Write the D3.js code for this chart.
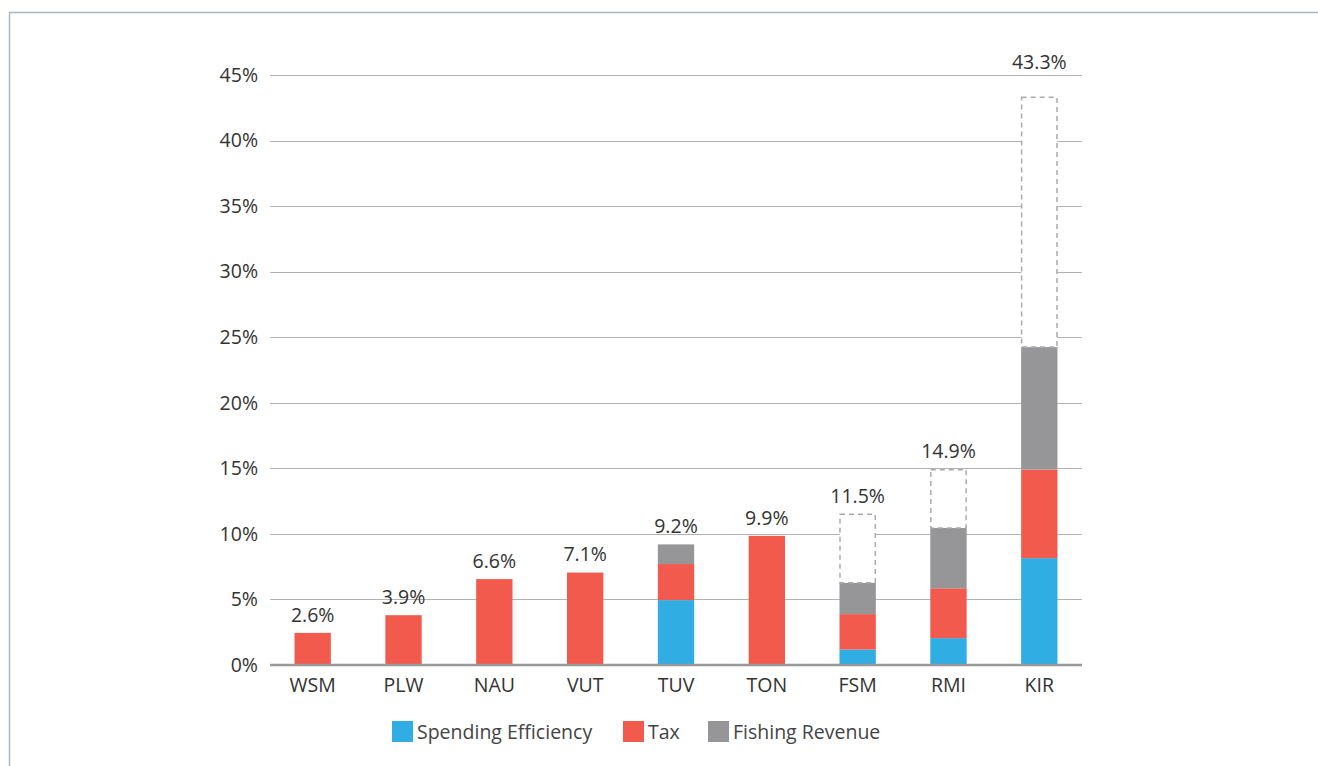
<!DOCTYPE html>
<html>
<head>
<meta charset="utf-8">
<script src="https://cdn.jsdelivr.net/npm/d3@7"></script>
<style>
  html, body { margin: 0; padding: 0; background: #fff; }
  svg { display: block; font-family: "Open Sans", Lato, sans-serif; }
</style>
</head>
<body>
<svg id="chart" width="1318" height="766"></svg>
<script>
// countries and stacked components (% of GDP)
const countries = ['WSM', 'PLW', 'NAU', 'VUT', 'TUV', 'TON', 'FSM', 'RMI', 'KIR'];
const spending  = [0,    0,    0,    0,    4.95, 0,    1.18, 2.05, 8.15];
const tax       = [2.45, 3.8,  6.55, 7.05, 2.75, 9.85, 2.7,  3.8,  6.75];
const fishing   = [0,    0,    0,    0,    1.5,  0,    2.4,  4.6,  9.35];
const totals    = [2.45, 3.8,  6.55, 7.05, 9.2,  9.85, 11.5, 14.9, 43.3];
const labels    = ['2.6%', '3.9%', '6.6%', '7.1%', '9.2%', '9.9%', '11.5%', '14.9%', '43.3%'];
const yTicks    = [0, 5, 10, 15, 20, 25, 30, 35, 40, 45];

const seriesNames  = ['Spending Efficiency', 'Tax', 'Fishing Revenue'];
const seriesColors = ['#30ade2', '#f15a4c', '#969698'];

const FS = 19.5;
const svg = d3.select('#chart');

// frame
svg.append('path')
  .attr('d', 'M9.5,766 V12.5 H1318')
  .attr('fill', 'none').attr('stroke', '#a4b6c6').attr('stroke-width', 1.5);

const ML = 270, MR = 1082, MT = 75, MB = 665;

const x = d3.scaleBand().domain(countries).range([ML, MR]).paddingInner(0.6).paddingOuter(0.27);
const y = d3.scaleLinear().domain([0, 45]).range([MB, MT]);

// gridlines
svg.append('g').selectAll('line').data(yTicks.filter(d => d > 0)).join('line')
  .attr('x1', ML).attr('x2', MR)
  .attr('y1', d => Math.round(y(d)) + 0.5).attr('y2', d => Math.round(y(d)) + 0.5)
  .attr('stroke', '#b3b3b3').attr('stroke-width', 1);

// y tick labels
svg.append('g').selectAll('text').data(yTicks).join('text')
  .attr('x', 258).attr('y', d => y(d)).attr('dy', '0.35em')
  .attr('text-anchor', 'end').attr('font-size', FS).attr('fill', '#333')
  .text(d => d + '%');

// stacked bars
const rows = countries.map((c, i) => ({ country: c, s0: spending[i], s1: tax[i], s2: fishing[i], total: totals[i] }));
const stack = d3.stack().keys(['s0', 's1', 's2'])(rows);

svg.append('g').selectAll('g').data(stack).join('g')
  .attr('fill', (d, i) => seriesColors[i])
  .selectAll('rect').data(d => d).join('rect')
  .attr('x', d => x(d.data.country))
  .attr('width', x.bandwidth())
  .attr('y', d => y(d[1]))
  .attr('height', d => Math.max(0, y(d[0]) - y(d[1])));

// dashed remainder boxes
rows.forEach(r => {
  const top = r.s0 + r.s1 + r.s2;
  if (r.total - top > 0.2) {
    svg.append('rect')
      .attr('x', x(r.country) + 0.5)
      .attr('width', x.bandwidth() - 1)
      .attr('y', y(r.total))
      .attr('height', y(top) - y(r.total))
      .attr('fill', '#fff')
      .attr('stroke', '#aaa').attr('stroke-width', 1.5)
      .attr('stroke-dasharray', '5,4');
  }
});

// value labels
svg.append('g').selectAll('text').data(rows).join('text')
  .attr('x', d => x(d.country) + x.bandwidth() / 2)
  .attr('y', d => d.total > 40 ? y(45) - 13 : y(d.total) - 18)
  .attr('dy', '0.35em')
  .attr('text-anchor', 'middle').attr('font-size', FS).attr('fill', '#333')
  .text((d, i) => labels[i]);

// baseline
svg.append('line')
  .attr('x1', ML).attr('x2', MR).attr('y1', MB).attr('y2', MB)
  .attr('stroke', '#999').attr('stroke-width', 2.5);

// x labels
svg.append('g').selectAll('text').data(countries).join('text')
  .attr('x', d => x(d) + x.bandwidth() / 2).attr('y', 685).attr('dy', '0.35em')
  .attr('text-anchor', 'middle').attr('font-size', FS).attr('fill', '#333')
  .text(d => d);

// legend
const legendX = [392, 623, 708];
const lg = svg.append('g').selectAll('g').data(seriesNames).join('g')
  .attr('transform', (d, i) => `translate(${legendX[i]},721)`);
lg.append('rect').attr('width', 21).attr('height', 21).attr('fill', (d, i) => seriesColors[i]);
lg.append('text').attr('x', 25).attr('y', 11).attr('dy', '0.35em')
  .attr('font-size', FS).attr('fill', '#444').text(d => d);
</script>
</body>
</html>
